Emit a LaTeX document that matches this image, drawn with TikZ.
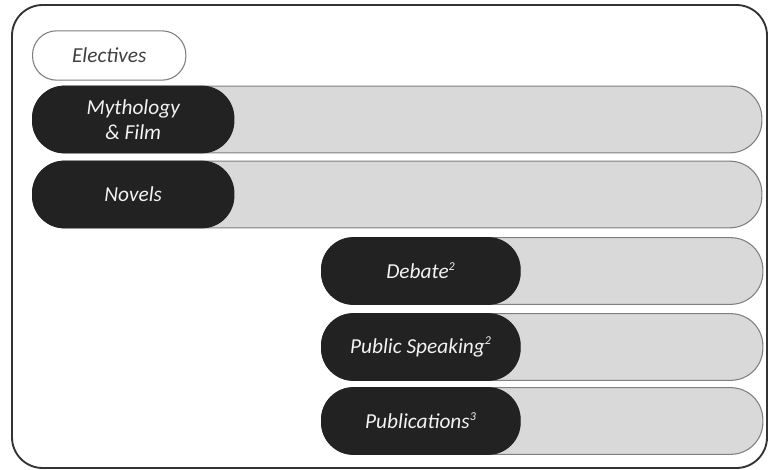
\documentclass[tikz,border=0pt]{standalone}
\usepackage{fontspec}
\setmainfont{Carlito}
\definecolor{barfill}{HTML}{D9D9D9}
\definecolor{barline}{HTML}{7F7F7F}
\definecolor{pillfill}{HTML}{222222}
\definecolor{frameline}{HTML}{333333}
\newcommand{\supnum}[1]{\textsuperscript{\fontsize{9}{9}\selectfont#1}}
\begin{document}
\begin{tikzpicture}[x=0.75pt,y=-0.75pt,
  bar/.style={draw=barline,fill=barfill,line width=0.8pt,rounded corners=24pt,minimum height=50pt,anchor=west,inner sep=0pt},
  pill/.style={draw=pillfill,fill=pillfill,line width=0.8pt,rounded corners=24pt,minimum height=50pt,anchor=west,inner sep=0pt,text=white!95!black,font=\itshape\fontsize{16}{19}\selectfont,align=center},
  tag/.style={draw=barline,fill=white,line width=0.8pt,rounded corners=18pt,minimum height=37pt,anchor=west,inner sep=0pt,text=black!75,font=\itshape\fontsize{16}{19}\selectfont}]
\useasboundingbox (0,0) rectangle (768,470);
% frame
\draw[frameline,line width=1.4pt,rounded corners=23pt] (12,5) rectangle (767,468);
\node[tag,minimum width=115pt] (elec) at (32,55.5) {Electives};
% full rows
\node[bar,minimum width=547pt] (b1) at (32,119.5) {};
\node[pill,minimum width=151pt] (myth) at (32,119.5) {Mythology\\\& Film};
\node[bar,minimum width=547pt] (b2) at (32,194.5) {};
\node[pill,minimum width=151pt] (nov) at (32,194.5) {Novels};
% short rows
\node[bar,minimum width=331pt] (b3) at (321,271) {};
\node[pill,minimum width=149pt] (deb) at (321,271) {Debate\supnum{2}};
\node[bar,minimum width=331pt] (b4) at (321,347) {};
\node[pill,minimum width=149pt] (pub) at (321,347) {Public Speaking\supnum{2}};
\node[bar,minimum width=331pt] (b5) at (321,421) {};
\node[pill,minimum width=149pt] (publ) at (321,421) {Publications\supnum{3}};
\end{tikzpicture}
\end{document}
